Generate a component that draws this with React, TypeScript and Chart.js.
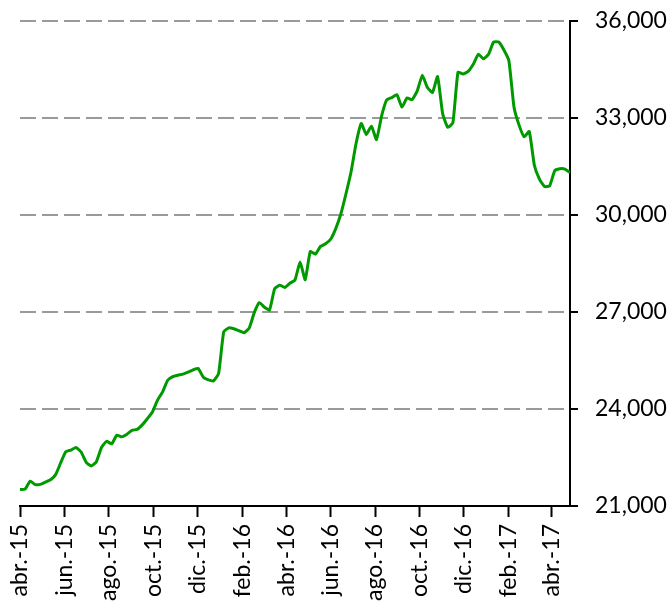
import React, { useEffect, useRef } from 'react';
import { Chart, registerables } from 'chart.js';

Chart.register(...registerables);

// Weekly series starting at START_DATE
const START_DATE = '2015-04-01';
const WEEKLY_VALUES = [
  21510, 21520, 21770, 21660, 21670, 21740, 21810, 21970, 22340, 22680,
  22730, 22810, 22670, 22350, 22240, 22370, 22810, 23000, 22920, 23190,
  23140, 23220, 23340, 23370, 23510, 23700, 23910, 24270, 24530, 24890,
  25000, 25045, 25080, 25140, 25210, 25250, 24980, 24900, 24870, 25100,
  26380, 26510, 26480, 26420, 26360, 26500, 26980, 27290, 27150, 27060,
  27720, 27830, 27760, 27890, 27990, 28550, 28000, 28870, 28790, 29030,
  29110, 29250, 29580, 30030, 30650, 31330, 32220, 32830, 32490, 32750,
  32330, 33060, 33560, 33630, 33720, 33340, 33620, 33570, 33840, 34320,
  33940, 33790, 34280, 33130, 32710, 32850, 34410, 34360, 34440, 34660,
  34970, 34830, 34970, 35350, 35350, 35110, 34770, 33340, 32780, 32420,
  32580, 31540, 31110, 30880, 30900, 31370, 31430, 31420, 31310,
];

const TICK_DATES = [
  '2015-04-01', '2015-06-01', '2015-08-01', '2015-10-01', '2015-12-01',
  '2016-02-01', '2016-04-01', '2016-06-01', '2016-08-01', '2016-10-01',
  '2016-12-01', '2017-02-01', '2017-04-01',
];
const TICK_LABELS = [
  'abr.-15', 'jun.-15', 'ago.-15', 'oct.-15', 'dic.-15',
  'feb.-16', 'abr.-16', 'jun.-16', 'ago.-16', 'oct.-16',
  'dic.-16', 'feb.-17', 'abr.-17',
];

const Y_MIN = 21000;
const Y_MAX = 36000;
const Y_STEP = 3000;

const DAY_MS = 86400000;
const dayOffset = (iso: string) => (Date.parse(iso) - Date.parse(START_DATE)) / DAY_MS;

const CANVAS_W = 671;
const CANVAS_H = 700;
const PLOT_TOP = 21;
const PLOT_BOTTOM = 506;
const PLOT_LEFT = 20;
const PLOT_RIGHT = 570;
const FONT = { family: 'Lato', size: 23 };

export default function App() {
  const canvasRef = useRef<HTMLCanvasElement | null>(null);

  useEffect(() => {
    const canvas = canvasRef.current;
    if (!canvas) return;
    const points = WEEKLY_VALUES.map((v, i) => ({ x: i * 7, y: v }));
    const tickDays = TICK_DATES.map(dayOffset);
    const lastDay = points[points.length - 1].x;

    const chart = new Chart(canvas, {
      type: 'line',
      data: {
        datasets: [
          {
            data: points,
            borderColor: '#009a00',
            borderWidth: 3,
            pointRadius: 0,
            tension: 0.15,
            fill: false,
          },
        ],
      },
      options: {
        responsive: false,
        animation: false,
        devicePixelRatio: 1,
        layout: { padding: { left: PLOT_LEFT, top: PLOT_TOP, right: 0, bottom: 0 } },
        plugins: { legend: { display: false }, tooltip: { enabled: false } },
        scales: {
          x: {
            type: 'linear',
            min: 0,
            max: lastDay,
            afterBuildTicks: (s: any) => {
              s.ticks = tickDays.map((v) => ({ value: v }));
            },
            afterFit: (s: any) => {
              s.height = CANVAS_H - PLOT_BOTTOM;
              s.paddingLeft = 0;
              s.paddingRight = 0;
            },
            grid: {
              drawOnChartArea: false,
              drawTicks: true,
              tickLength: 11,
              tickColor: '#000',
              tickWidth: 2,
            },
            border: { display: true, color: '#000', width: 2 },
            ticks: {
              autoSkip: false,
              maxRotation: 90,
              minRotation: 90,
              padding: 7,
              color: '#000',
              font: FONT,
              callback: (_v: any, i: number) => TICK_LABELS[i],
            },
          },
          y: {
            position: 'right',
            min: Y_MIN,
            max: Y_MAX,
            afterFit: (s: any) => {
              s.width = CANVAS_W - PLOT_RIGHT;
              s.paddingTop = 0;
              s.paddingBottom = 0;
            },
            grid: {
              color: (ctx: any) => (ctx.tick && ctx.tick.value === Y_MIN ? 'rgba(0,0,0,0)' : '#9a9a9a'),
              lineWidth: 2,
              drawTicks: true,
              tickLength: 8,
              tickColor: '#000',
              tickWidth: 2,
              tickBorderDash: [],
            },
            border: { display: true, color: '#000', width: 2, dash: [16, 6] },
            ticks: {
              stepSize: Y_STEP,
              padding: 17,
              color: '#000',
              font: FONT,
              callback: (v: any) => Number(v).toLocaleString('en-US'),
            },
          },
        },
      } as any,
    });
    return () => chart.destroy();
  }, []);

  return (
    <div
      style={{
        position: 'fixed',
        left: 0,
        top: 0,
        width: CANVAS_W,
        height: 601,
        overflow: 'hidden',
        background: '#fff',
      }}
    >
      <canvas ref={canvasRef} width={CANVAS_W} height={CANVAS_H} style={{ display: 'block' }} />
    </div>
  );
}
